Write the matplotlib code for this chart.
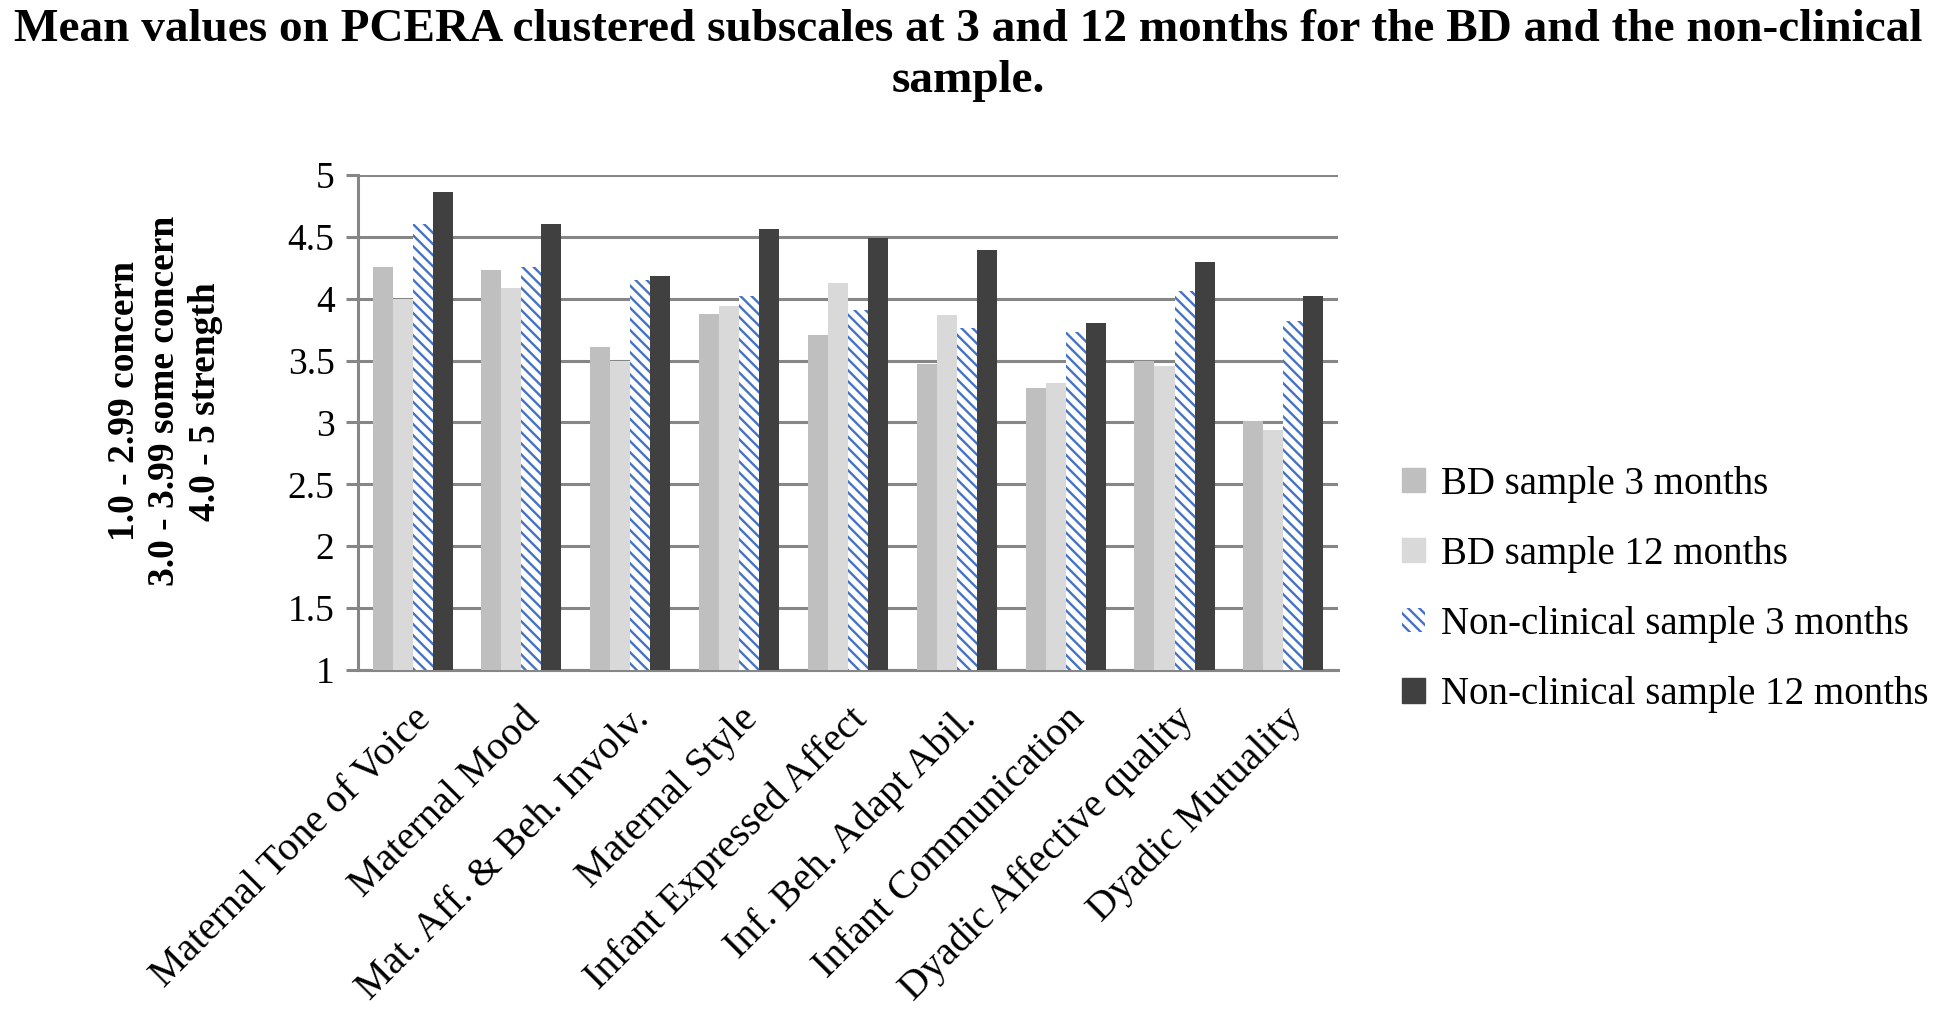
import matplotlib
matplotlib.use("Agg")
import matplotlib.pyplot as plt
import numpy as np
from matplotlib.patches import Patch

categories = ["Maternal Tone of Voice", "Maternal Mood", "Mat. Aff. & Beh. Involv.",
              "Maternal Style", "Infant Expressed Affect", "Inf. Beh. Adapt Abil.",
              "Infant Communication", "Dyadic Affective quality", "Dyadic Mutuality"]
series_names = ["BD sample 3 months", "BD sample 12 months",
                "Non-clinical sample 3 months", "Non-clinical sample 12 months"]
bd_3 = [4.26, 4.23, 3.61, 3.88, 3.71, 3.47, 3.28, 3.50, 3.01]
bd_12 = [4.00, 4.09, 3.50, 3.94, 4.13, 3.87, 3.32, 3.46, 2.94]
nc_3 = [4.60, 4.26, 4.15, 4.02, 3.91, 3.76, 3.73, 4.06, 3.82]
nc_12 = [4.86, 4.60, 4.18, 4.56, 4.49, 4.39, 3.80, 4.30, 4.02]
yticks = [1, 1.5, 2, 2.5, 3, 3.5, 4, 4.5, 5]
ytick_labels = ["1", "1.5", "2", "2.5", "3", "3.5", "4", "4.5", "5"]

plt.rcParams['font.family'] = ['Liberation Serif', 'DejaVu Serif']
plt.rcParams['hatch.linewidth'] = 1.7

fig = plt.figure(figsize=(19.36, 10.16), dpi=100)
ax = fig.add_axes([0.185, 0.3406, 0.506, 0.4872])

grid_c = "#868686"
x = np.arange(len(categories))
w = 0.184
styles = [dict(color="#BFBFBF"), dict(color="#D9D9D9"),
          dict(facecolor="white", edgecolor="#4472C4", hatch="\\\\\\", linewidth=0),
          dict(color="#404040")]
data = [bd_3, bd_12, nc_3, nc_12]
handles = []
for i, (vals, st) in enumerate(zip(data, styles)):
    ax.bar(x + (i - 1.5) * w, np.array(vals) - 1, bottom=1, width=w,
           zorder=3, **st)
    handles.append(Patch(label=series_names[i], **st))

ax.set_xlim(-0.5, len(categories) - 0.5)
ax.set_ylim(1, 5)
ax.set_yticks(yticks)
ax.set_yticklabels(ytick_labels, fontsize=27)
ax.yaxis.grid(True, color=grid_c, linewidth=2.2, zorder=0)
ax.set_axisbelow(True)
for s in ["top", "right"]:
    ax.spines[s].set_visible(False)
for s in ["left", "bottom"]:
    ax.spines[s].set_color(grid_c)
    ax.spines[s].set_linewidth(2.2)
ax.tick_params(axis="y", length=9, width=2.2, color=grid_c, pad=8)
ax.tick_params(axis="x", length=0, pad=22)
ax.set_xticks(x)
ax.set_xticklabels(categories, rotation=45, ha="right", va="top",
                   rotation_mode="anchor", fontsize=29)

fig.text(0.0852, 0.605, "1.0 - 2.99 concern\n3.0 - 3.99 some concern\n4.0 - 5 strength",
         fontsize=27, fontweight="bold", rotation=90, ha="center", va="center",
         multialignment="center", linespacing=1.2)

fig.suptitle("Mean values on PCERA clustered subscales at 3 and 12 months for the BD and the non-clinical\nsample.",
             fontsize=34, fontweight="bold", y=0.991, va="top", linespacing=1.29)

fig.legend(handles=handles, loc="center left", bbox_to_anchor=(0.716, 0.42),
           frameon=False, fontsize=28, handlelength=0.6, handleheight=0.6,
           handletextpad=0.4, labelspacing=0.85, borderaxespad=0)

fig.savefig("out.png", dpi=100)
